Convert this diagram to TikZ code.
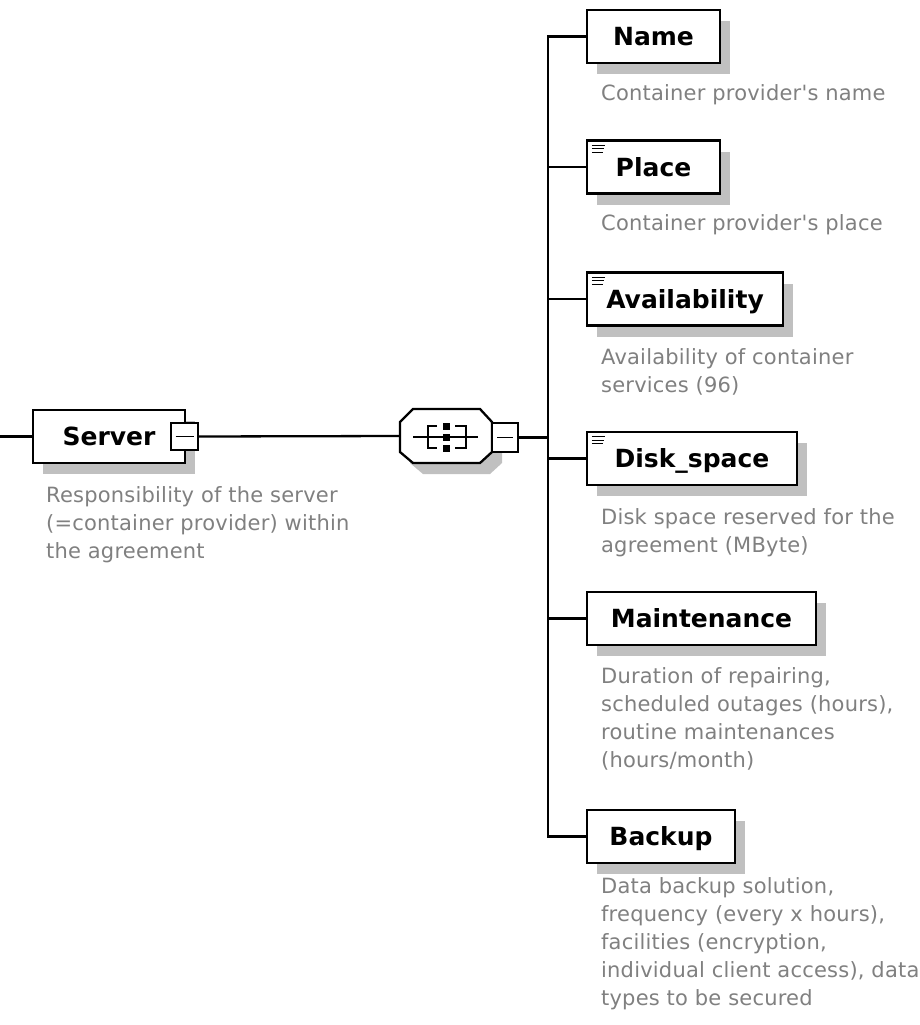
\documentclass[tikz,border=0pt]{standalone}
\usepackage{fontspec}
\setmainfont{DejaVu Sans}
\newfontfamily\descfont[LetterSpace=1]{DejaVu Sans}
\usetikzlibrary{shadows}
\definecolor{descgray}{RGB}{128,128,128}
\definecolor{shadowgray}{RGB}{192,192,192}
\begin{document}
\begin{tikzpicture}[x=1pt,y=-1pt,line width=2.3pt,
  elbox/.style={draw,fill=white,line width=2.4pt,rectangle,inner sep=0pt,
    minimum height=53pt,text height=18pt,text depth=0pt,
    font=\fontsize{25}{30}\selectfont\bfseries,
    general shadow={fill=shadowgray,draw=none,shadow xshift=10pt,shadow yshift=-11pt}},
  % annotations are placed by the baseline of their last line
  desc/.style={anchor=base west,align=left,inner sep=0pt,text=descgray,
    font=\descfont\fontsize{21}{28.2}\selectfont},
  minusbox/.style={draw,fill=white,line width=2pt,inner sep=0pt},
  conn/.style={line width=2.3pt},
  icon/.style={line width=1.3pt}
]
\useasboundingbox[fill=white] (0,0) rectangle (920,1025);

% ---------- root element with its collapse box ----------
\node[elbox,minimum width=152pt] (server) at (109,436.5) {Server\hspace{13pt}};
\node[minusbox,minimum width=27pt,minimum height=27pt] (srvminus) at (184.5,436.5) {};
\draw[line width=1.8pt] (srvminus.center) ++(-9,0) -- ++(18,0);

% ---------- sequence compositor ----------
\node[minimum width=92pt,minimum height=54pt,inner sep=0pt] (seq) at (446,436) {};
\fill[shadowgray,shift={(10,11)}]
  (400,422) -- (413,409) -- (480,409) -- (492,422) -- (492,452) -- (480,463) -- (413,463) -- (400,452) -- cycle;
\draw[fill=white,line width=2.3pt]
  (400,422) -- (413,409) -- (480,409) -- (492,422) -- (492,452) -- (480,463) -- (413,463) -- (400,452) -- cycle;
% sequence symbol
\draw[line width=2.2pt] (413,437) -- (478,437);
\draw[line width=2.2pt] (437,426) -- (428,426) -- (428,448) -- (437,448);
\draw[line width=2.2pt] (455,426) -- (466,426) -- (466,448) -- (455,448);
\fill (443,423) rectangle (450,430);
\fill (443,433.5) rectangle (450,440.5);
\fill (443,445) rectangle (450,452);
\node[minusbox,minimum width=26pt,minimum height=29pt] (seqminus) at (505,437.5) {};
\draw[line width=1.8pt] (seqminus.center) ++(-8,0) -- ++(16,0);

% ---------- child elements ----------
\node[elbox,minimum width=133pt] (name)  at (653.5,36.5)  {Name};
\node[elbox,minimum width=133pt] (place) at (653.5,167)   {Place};
\node[elbox,minimum width=196pt] (avail) at (685,299)     {Availability};
\node[elbox,minimum width=210pt] (disk)  at (692,458.5)   {Disk\_space};
\node[elbox,minimum width=229pt] (maint) at (701.5,618.5) {Maintenance};
\node[elbox,minimum width=148pt] (backup) at (661,836.5)  {Backup};

% simple-content markers
\foreach \n in {place,avail,disk} {
  \draw[icon] (\n.north west) ++(6,6)   -- ++(13,0);
  \draw[icon] (\n.north west) ++(6,9.5) -- ++(12,0);
  \draw[icon] (\n.north west) ++(6,13)  -- ++(11,0);
}

% ---------- connectors ----------
\coordinate (rootin) at (0,436.5);
\coordinate (trunk) at (548,437.5);
\draw[conn] (rootin) -- (server.west);
\draw[conn] (srvminus.east) -- (seq.west);
\draw[conn] (seqminus.east) -- (trunk);
\draw[conn] (name.west) -- (name.west -| trunk) -- (backup.west -| trunk) -- (backup.west);
\foreach \n in {place,avail,disk,maint}
  \draw[conn] (\n.west) -- (\n.west -| trunk);

% ---------- annotations ----------
\node[desc] (serverdesc) at (45,558.4) {Responsibility of the server\\(=container provider) within\\the agreement};
\node[desc] (namedesc)  at (600,100) {Container provider's name};
\node[desc] (placedesc) at (600,230) {Container provider's place};
\node[desc] (availdesc) at (600,392.2) {Availability of container\\services (96)};
\node[desc] (diskdesc)  at (600,552.2) {Disk space reserved for the\\agreement (MByte)};
\node[desc] (maintdesc) at (600,767.6) {Duration of repairing,\\scheduled outages (hours),\\routine maintenances\\(hours/month)};
\node[desc] (backupdesc) at (600,1005.8) {Data backup solution,\\frequency (every x hours),\\facilities (encryption,\\individual client access), data\\types to be secured};
\end{tikzpicture}
\end{document}
